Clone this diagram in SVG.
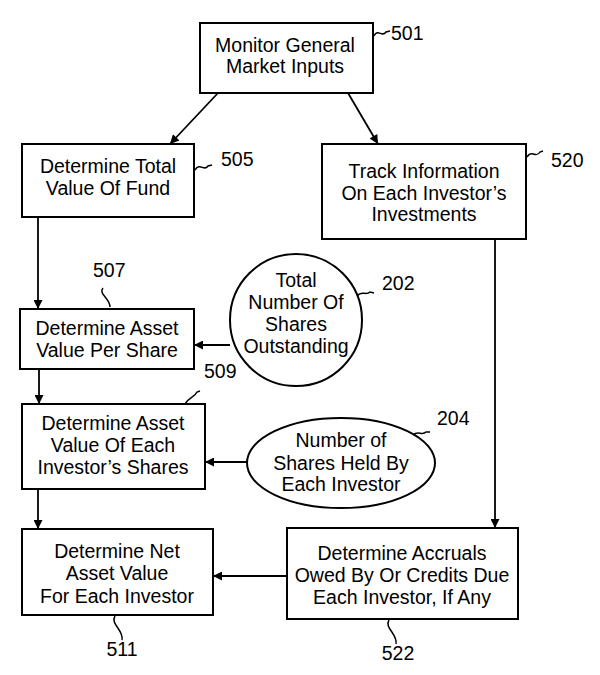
<svg xmlns="http://www.w3.org/2000/svg" width="600" height="675" viewBox="0 0 600 675">
<style>
.b{fill:#fff;stroke:#000;stroke-width:2}
.t{font-family:"Liberation Sans",Arial,sans-serif;font-size:19.5px;fill:#000;text-anchor:middle}
.l{font-family:"Liberation Sans",Arial,sans-serif;font-size:19.5px;fill:#000}
.c{fill:none;stroke:#000;stroke-width:1.8}
.s{fill:none;stroke:#000;stroke-width:1.5}
</style>
<defs>
<marker id="a" viewBox="0 0 10 10" refX="10" refY="5" markerWidth="11" markerHeight="9" markerUnits="userSpaceOnUse" orient="auto">
<path d="M0,0 L10,5 L0,10 Z" fill="#000"/>
</marker>
</defs>
<g id="connectors">
<line class="c" x1="218" y1="93" x2="170" y2="144" marker-end="url(#a)"/>
<line class="c" x1="348" y1="93" x2="378" y2="144" marker-end="url(#a)"/>
<line class="c" x1="38" y1="217" x2="38" y2="309" marker-end="url(#a)"/>
<line class="c" x1="39" y1="369" x2="39" y2="404" marker-end="url(#a)"/>
<line class="c" x1="38" y1="489" x2="38" y2="529" marker-end="url(#a)"/>
<line class="c" x1="495" y1="239" x2="495" y2="528" marker-end="url(#a)"/>
<line class="c" x1="230" y1="345" x2="194" y2="345" marker-end="url(#a)"/>
<line class="c" x1="247" y1="462" x2="205" y2="462" marker-end="url(#a)"/>
<line class="c" x1="287" y1="576" x2="213" y2="576" marker-end="url(#a)"/>
</g>
<g id="n501">
<rect class="b" x="200" y="23" width="173" height="70"/>
<text class="t" x="285" y="52">Monitor General</text>
<text class="t" x="285" y="73">Market Inputs</text>
<path class="s" d="M374,36 C378,28 382,38 386,32 L390,31"/>
<text class="l" x="391" y="40">501</text>
</g>
<g id="n505">
<rect class="b" x="22" y="144" width="172" height="73"/>
<text class="t" x="108" y="173">Determine Total</text>
<text class="t" x="108" y="195">Value Of Fund</text>
<path class="s" d="M195,170 C200,162 204,172 208,166 L212,165"/>
<text class="l" x="221" y="166">505</text>
</g>
<g id="n520">
<rect class="b" x="322" y="144" width="204" height="95"/>
<text class="t" x="424" y="178">Track Information</text>
<text class="t" x="424" y="200">On Each Investor’s</text>
<text class="t" x="424" y="221">Investments</text>
<path class="s" d="M527,157 C532,149 536,159 540,152 L543,151"/>
<text class="l" x="551" y="167">520</text>
</g>
<g id="n507">
<rect class="b" x="20" y="309" width="174" height="60"/>
<text class="t" x="107" y="335">Determine Asset</text>
<text class="t" x="107" y="357">Value Per Share</text>
<path class="s" d="M103,288 C98,294 110,298 110,307"/>
<text class="l" x="93" y="277">507</text>
</g>
<g id="n509">
<rect class="b" x="22" y="404" width="183" height="85"/>
<text class="t" x="113" y="430">Determine Asset</text>
<text class="t" x="113" y="452">Value Of Each</text>
<text class="t" x="113" y="474">Investor’s Shares</text>
<path class="s" d="M185,404 C190,396 194,398 197,392 L200,391"/>
<text class="l" x="204" y="378">509</text>
</g>
<g id="n202">
<circle class="b" cx="296" cy="320" r="66"/>
<text class="t" x="296" y="287">Total</text>
<text class="t" x="296" y="309">Number Of</text>
<text class="t" x="296" y="331">Shares</text>
<text class="t" x="296" y="353">Outstanding</text>
<path class="s" d="M357,296 C362,290 366,296 370,292 L374,293"/>
<text class="l" x="382" y="290">202</text>
</g>
<g id="n204">
<ellipse class="b" cx="341" cy="463" rx="94" ry="45"/>
<text class="t" x="341" y="447">Number of</text>
<text class="t" x="341" y="470">Shares Held By</text>
<text class="t" x="341" y="491">Each Investor</text>
<path class="s" d="M413,435 C418,430 422,436 426,432 L430,432"/>
<text class="l" x="437" y="425">204</text>
</g>
<g id="n511">
<rect class="b" x="22" y="529" width="191" height="86"/>
<text class="t" x="117" y="558">Determine Net</text>
<text class="t" x="117" y="580">Asset Value</text>
<text class="t" x="117" y="603">For Each Investor</text>
<path class="s" d="M115,616 C110,624 124,630 122,640"/>
<text class="l" x="122" y="656" text-anchor="middle">511</text>
</g>
<g id="n522">
<rect class="b" x="287" y="528" width="231" height="91"/>
<text class="t" x="402" y="560">Determine Accruals</text>
<text class="t" x="402" y="582">Owed By Or Credits Due</text>
<text class="t" x="402" y="604">Each Investor, If Any</text>
<path class="s" d="M389,620 C384,628 398,634 396,644"/>
<text class="l" x="398" y="660" text-anchor="middle">522</text>
</g>
</svg>
